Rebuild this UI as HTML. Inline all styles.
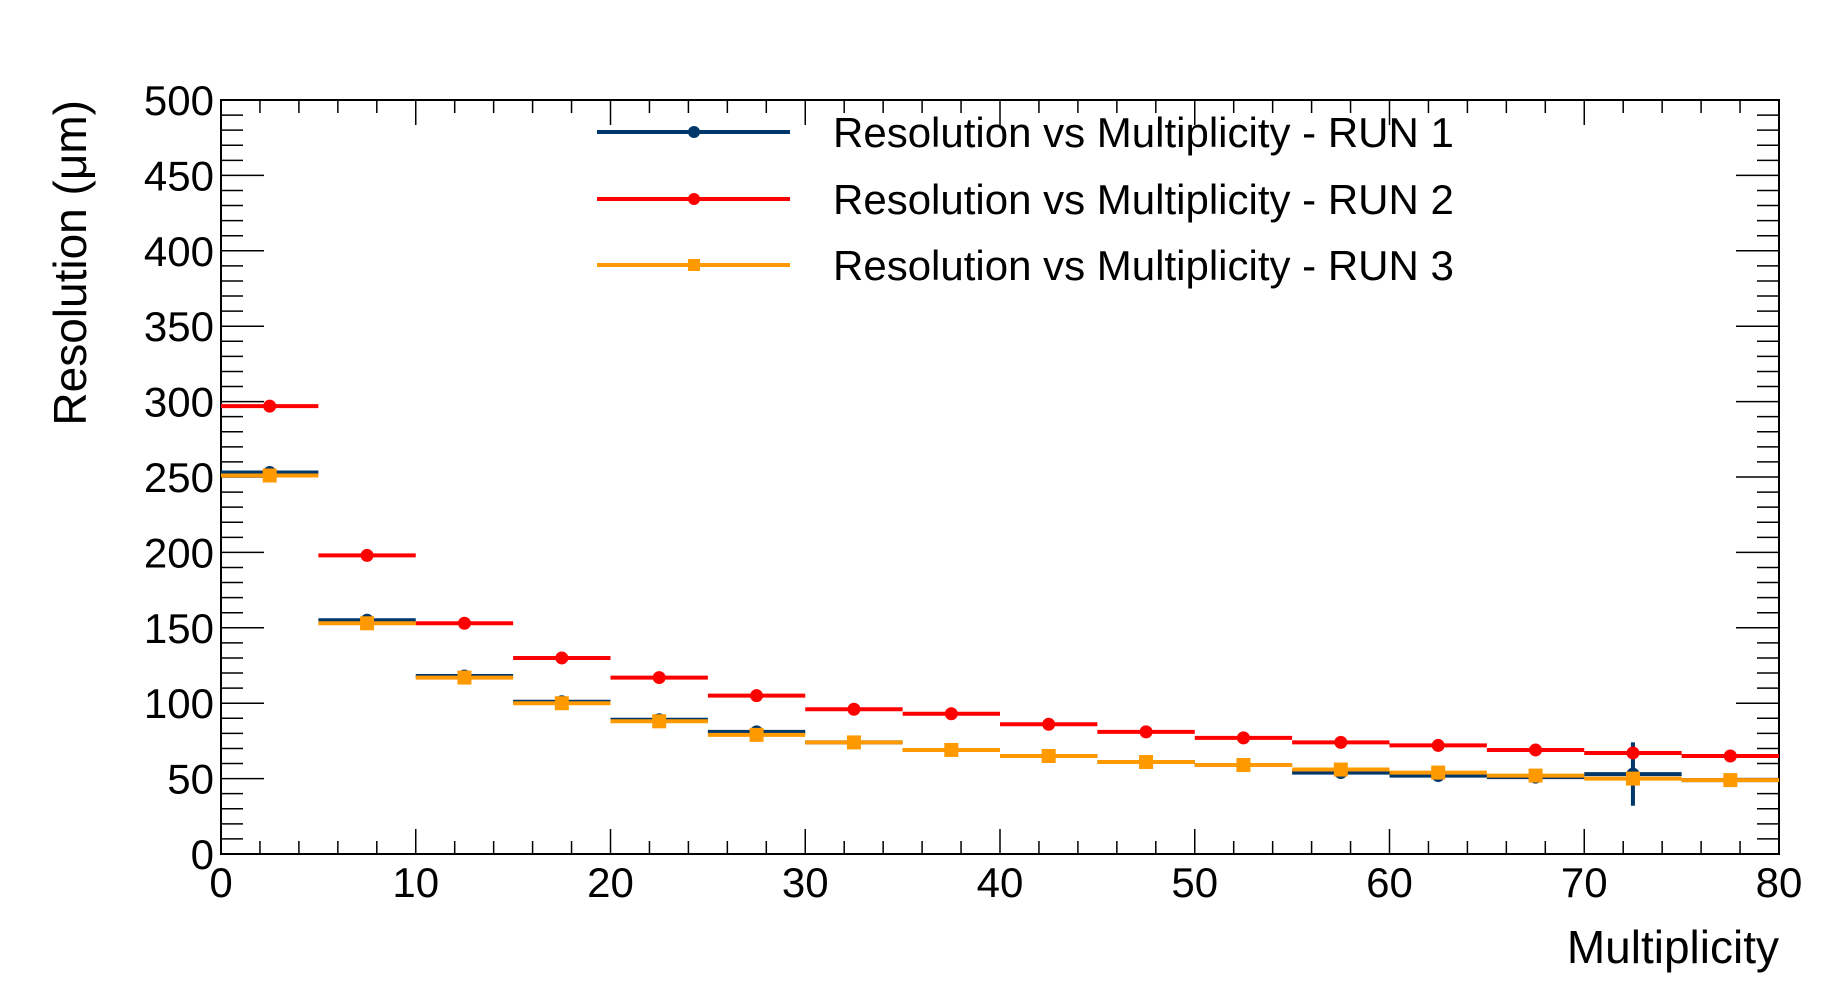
<!DOCTYPE html>
<html><head><meta charset="utf-8"><style>
html,body{margin:0;padding:0;background:#fff;}
svg{display:block;font-family:"Liberation Sans",sans-serif;}
</style></head><body>
<svg id="chart" width="1844" height="992" viewBox="0 0 1844 992" xmlns="http://www.w3.org/2000/svg">
<rect width="1844" height="992" fill="#fff"/>
<g id="axes"></g>
<g id="series"></g>
<g id="legend"></g>
</svg>
<script>
const binEdges = [0,5,10,15,20,25,30,35,40,45,50,55,60,65,70,75,80];
const run1 = [253,155,118,101,89,81,74,69,65,61,59,54,52,51,53,49];
const run1Err = [1,1,1,1,1,1,1,1,1,1,1,1,1,1,21,1];
const run2 = [297,198,153,130,117,105,96,93,86,81,77,74,72,69,67,65];
const run3 = [251,153,117,100,88,79,74,69,65,61,59,56,54,52,50,49];
const xTicks = [0,10,20,30,40,50,60,70,80];
const yTicks = [0,50,100,150,200,250,300,350,400,450,500];
const legendLabels = ["Resolution vs Multiplicity - RUN 1","Resolution vs Multiplicity - RUN 2","Resolution vs Multiplicity - RUN 3"];

const L=221,R=1779,T=100,B=854;
const xs=v=>L+(v-0)/(80-0)*(R-L);
const ys=v=>B-(v-0)/(500-0)*(B-T);
const NS="http://www.w3.org/2000/svg";
function mk(tag,attrs,parent){const e=document.createElementNS(NS,tag);for(const k in attrs)e.setAttribute(k,attrs[k]);parent.appendChild(e);return e;}
const axes=document.getElementById('axes');
const frame=mk('rect',{x:L,y:T,width:R-L,height:B-T,fill:'none',stroke:'#000','stroke-width':2},axes);


for(let v=0;v<=80;v+=2){
  const maj=v%10===0, len=maj?25:13, x=xs(v);
  const t1=mk('line',{x1:x,x2:x,y1:B,y2:B-len,stroke:'#000','stroke-width':1.5},axes);
  
  
  const t2=mk('line',{x1:x,x2:x,y1:T,y2:T+len,stroke:'#000','stroke-width':1.5},axes);
  
  
}
for(let v=0;v<=500;v+=10){
  const maj=v%50===0, len=maj?43:22, y=ys(v);
  const t1=mk('line',{x1:L,x2:L+len,y1:y,y2:y,stroke:'#000','stroke-width':1.5},axes);
  
  
  const t2=mk('line',{x1:R,x2:R-len,y1:y,y2:y,stroke:'#000','stroke-width':1.5},axes);
  
  
}
xTicks.forEach(v=>{
  const t=mk('text',{x:xs(v),y:897,'font-size':42,'text-anchor':'middle'},axes);
  t.textContent=v;
  
  
});
yTicks.forEach(v=>{
  const t=mk('text',{x:214,y:ys(v)+15,'font-size':42,'text-anchor':'end'},axes);
  t.textContent=v;
  
  
});
const xt=mk('text',{x:R,y:963,'font-size':46,'text-anchor':'end'},axes);
xt.textContent='Multiplicity';


const yt=mk('text',{x:0,y:0,'font-size':46,'text-anchor':'end',transform:'translate(86,100) rotate(-90)'},axes);
yt.textContent='Resolution (\u03bcm)';



const series=document.getElementById('series');
function drawSeries(vals,errs,color,marker,name){
  const g=mk('g',{},series);
  
  
  vals.forEach((v,i)=>{
    const x0=xs(binEdges[i]),x1=xs(binEdges[i+1]),xc=(x0+x1)/2,y=ys(v);
    const ln=mk('line',{x1:x0,x2:x1,y1:y,y2:y,stroke:color,'stroke-width':4},g);
    
    
    if(errs){const e=errs[i];
      const eb=mk('line',{x1:xc,x2:xc,y1:ys(v-e),y2:ys(v+e),stroke:color,'stroke-width':4},g);
      
      
    }
    let m;
    if(marker==='circle') m=mk('circle',{cx:xc,cy:y,r:6.5,fill:color},g);
    else m=mk('rect',{x:xc-7,y:y-7,width:14,height:14,fill:color},g);
    
    
  });
}
drawSeries(run1,run1Err,'#00376b','circle','run1-series');
drawSeries(run2,null,'#ff0000','circle','run2-series');
drawSeries(run3,null,'#ff9900','square','run3-series');

const legend=document.getElementById('legend');
const lc=['#00376b','#ff0000','#ff9900'],lm=['circle','circle','square'],ly=[132,199,265];
legendLabels.forEach((lab,i)=>{
  const g=mk('g',{},legend);
  
  
  mk('line',{x1:597,x2:790,y1:ly[i],y2:ly[i],stroke:lc[i],'stroke-width':4},g);
  if(lm[i]==='circle') mk('circle',{cx:694,cy:ly[i],r:6,fill:lc[i]},g);
  else mk('rect',{x:688,y:ly[i]-6,width:12,height:12,fill:lc[i]},g);
  const t=mk('text',{x:833,y:ly[i]+15,'font-size':42},g);
  t.textContent=lab;
});
</script>
</body></html>
